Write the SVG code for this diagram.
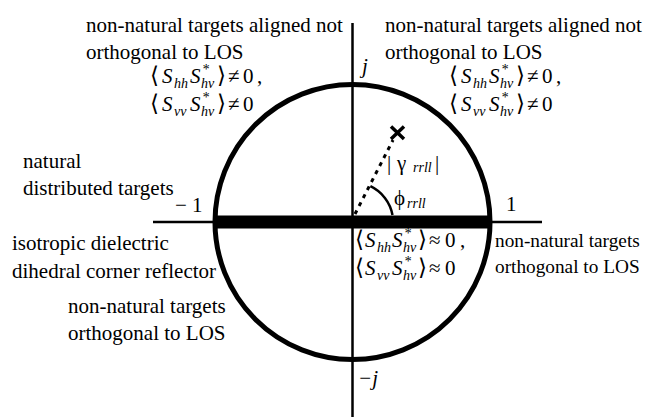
<svg xmlns="http://www.w3.org/2000/svg" width="650" height="417" viewBox="0 0 650 417">
<style>
text{font-family:"Liberation Serif","Times New Roman","DejaVu Serif",serif;fill:#000}
.t{font-size:21px}
.r{font-size:19.3px}
.m{font-size:21px}
.i{font-style:italic}
.s{font-size:14px;font-style:italic}
.b{font-family:"DejaVu Serif","Liberation Serif",serif;font-size:23px}
.ax{stroke:#000;stroke-width:2.5;fill:none}
</style>
<rect width="650" height="417" fill="#fff"/>
<g id="axes">
<line class="ax" x1="352.5" y1="23" x2="352.5" y2="417"/>
<line class="ax" x1="153" y1="222" x2="542" y2="222"/>
</g>
<g id="unit-circle">
<circle cx="352.5" cy="222" r="137.5" fill="none" stroke="#000" stroke-width="5"/>
</g>
<g id="real-segment">
<rect x="214" y="215.5" width="277" height="13" fill="#000"/>
</g>
<g id="connectors">
<line x1="355" y1="214" x2="393" y2="140" stroke="#000" stroke-width="3" stroke-dasharray="4 5"/>
<path d="M370.4 186.2 A40 40 0 0 1 392.5 215" fill="none" stroke="#000" stroke-width="2.5"/>
</g>
<g id="point">
<path d="M391 126.5 L404 139 M404 126.5 L391 139" stroke="#000" stroke-width="3.5"/>
</g>
<g id="axis-labels">
<text class="t i" x="362" y="73">j</text>
<text class="t i" x="358" y="385">−j</text>
<text class="t" x="506" y="211">1</text>
<text class="t" x="175" y="212">− 1</text>
</g>
<g id="gamma-label">
<text class="t" x="387" y="170">|</text>
<text class="t" x="397" y="170">γ</text>
<text class="s" x="413" y="172">rrll</text>
<text class="t" x="435" y="170">|</text>
</g>
<g id="phi-label">
<text class="t" x="394" y="205">ϕ</text>
<text class="s" x="407" y="208">rrll</text>
</g>
<g id="top-left">
<text class="t" x="86" y="32">non-natural targets aligned not</text>
<text class="t" x="86" y="59">orthogonal to LOS</text>
<g transform="translate(150,83)">
<text class="b" x="0" y="0">⟨</text><text class="m i" x="12" y="0">S</text><text class="s" x="24" y="5">hh</text>
<text class="m i" x="40" y="0">S</text><text class="s" x="52" y="-9">*</text><text class="s" x="51" y="5">hv</text>
<text class="b" x="67" y="0">⟩</text><text class="m" x="78" y="0">≠</text><text class="m" x="93" y="0">0</text><text class="m" x="107" y="0">,</text>
</g>
<g transform="translate(150,111)">
<text class="b" x="0" y="0">⟨</text><text class="m i" x="12" y="0">S</text><text class="s" x="24" y="5">vv</text>
<text class="m i" x="40" y="0">S</text><text class="s" x="52" y="-9">*</text><text class="s" x="51" y="5">hv</text>
<text class="b" x="67" y="0">⟩</text><text class="m" x="78" y="0">≠</text><text class="m" x="93" y="0">0</text>
</g>
</g>
<g id="top-right">
<text class="t" x="385" y="32">non-natural targets aligned not</text>
<text class="t" x="385" y="59">orthogonal to LOS</text>
<g transform="translate(449,83)">
<text class="b" x="0" y="0">⟨</text><text class="m i" x="12" y="0">S</text><text class="s" x="24" y="5">hh</text>
<text class="m i" x="40" y="0">S</text><text class="s" x="52" y="-9">*</text><text class="s" x="51" y="5">hv</text>
<text class="b" x="67" y="0">⟩</text><text class="m" x="78" y="0">≠</text><text class="m" x="93" y="0">0</text><text class="m" x="107" y="0">,</text>
</g>
<g transform="translate(449,111)">
<text class="b" x="0" y="0">⟨</text><text class="m i" x="12" y="0">S</text><text class="s" x="24" y="5">vv</text>
<text class="m i" x="40" y="0">S</text><text class="s" x="52" y="-9">*</text><text class="s" x="51" y="5">hv</text>
<text class="b" x="67" y="0">⟩</text><text class="m" x="78" y="0">≠</text><text class="m" x="93" y="0">0</text>
</g>
</g>
<g id="natural">
<text class="t" x="23" y="168">natural</text>
<text class="t" x="23" y="195">distributed targets</text>
</g>
<g id="dihedral">
<text class="t" x="12" y="250">isotropic dielectric</text>
<text class="t" x="12" y="278">dihedral corner reflector</text>
</g>
<g id="bottom-left">
<text class="t" x="68" y="313">non-natural targets</text>
<text class="t" x="68" y="340">orthogonal to LOS</text>
</g>
<g id="bottom-formula">
<g transform="translate(355,247)">
<text class="b" x="0" y="0">⟨</text><text class="m i" x="10" y="0">S</text><text class="s" x="22" y="5">hh</text>
<text class="m i" x="37" y="0">S</text><text class="s" x="49" y="-9">*</text><text class="s" x="48" y="5">hv</text>
<text class="b" x="63" y="0">⟩</text><text class="m" x="74" y="0">≈</text><text class="m" x="90" y="0">0</text><text class="m" x="105" y="0">,</text>
</g>
<g transform="translate(355,275)">
<text class="b" x="0" y="0">⟨</text><text class="m i" x="10" y="0">S</text><text class="s" x="22" y="5">vv</text>
<text class="m i" x="37" y="0">S</text><text class="s" x="49" y="-9">*</text><text class="s" x="48" y="5">hv</text>
<text class="b" x="63" y="0">⟩</text><text class="m" x="74" y="0">≈</text><text class="m" x="90" y="0">0</text>
</g>
</g>
<g id="right">
<text class="r" x="495" y="247">non-natural targets</text>
<text class="r" x="495" y="273">orthogonal to LOS</text>
</g>
</svg>
